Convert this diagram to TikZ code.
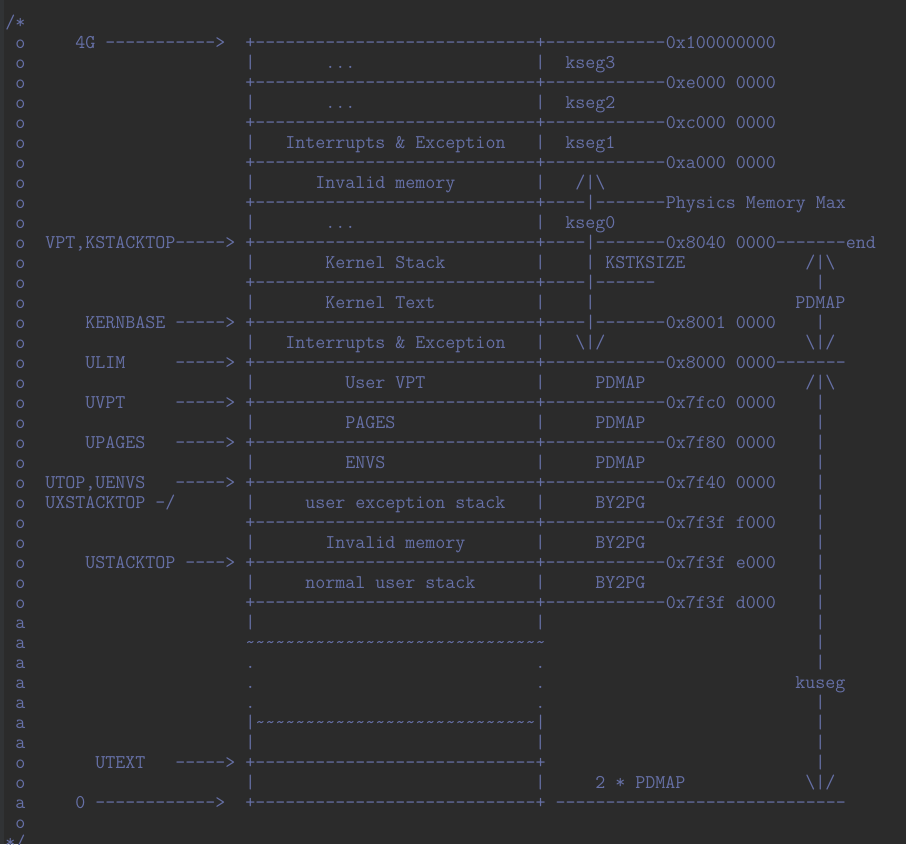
\documentclass[tikz,border=0pt]{standalone}
\usepackage{fontspec}
\setmonofont{Latin Modern Mono}

\definecolor{editorbg}{HTML}{2B2B2B}
\definecolor{guttercol}{HTML}{313335}
\definecolor{commentcol}{HTML}{6670A6}

\newcommand{\segrow}{+----------------------------+}
\newcommand{\tld}{\textasciitilde}
\newcommand{\tldfive}{\tld\tld\tld\tld\tld}

\begin{document}
\begin{tikzpicture}[
    x=7.5pt, y=-15pt,
    txt/.style={anchor=base west, inner sep=0pt, text=commentcol,
      font=\ttfamily\fontsize{14.58pt}{15pt}\selectfont},
  ]
  % editor background and gutter
  \path[use as bounding box, fill=editorbg] (0,0) rectangle (90.6,42.2);
  \fill[guttercol] (0,0) rectangle (0.4,42.2);

  \begin{scope}[shift={(0.5,1.4)}]
  % comment markers
  \node[txt] (open) at (0,0) {/*};
  \node[txt] (close) at (0,41) {*/};
  \foreach \r in {1,...,29,37,38,40}
    \node[txt] (o\r) at (1,\r) {o};
  \foreach \r in {30,...,36,39}
    \node[txt] (a\r) at (1,\r) {a};

  % address arrows
  \node[txt] (fourg) at (7,1) {4G ----------->};
  \node[txt] (vpt) at (4,11) {VPT,KSTACKTOP----->};
  \node[txt] (kernbase) at (8,15) {KERNBASE ----->};
  \node[txt] (ulim) at (8,17) {ULIM};
  \node[txt] (uvpt) at (8,19) {UVPT};
  \node[txt] (upages) at (8,21) {UPAGES};
  \node[txt] (utop) at (4,23) {UTOP,UENVS};
  \node[txt] (uxstack) at (4,24) {UXSTACKTOP -/};
  \node[txt] (ustack) at (8,27) {USTACKTOP ---->};
  \node[txt] (utext) at (9,37) {UTEXT};
  \node[txt] (zero) at (7,39) {0 ------------>};
  \foreach \r in {17,19,21,23,37}
    \node[txt] (arr\r) at (17,\r) {----->};

  % segment borders
  \node[txt] (b1) at (24,1) {\segrow------------0x100000000};
  \node[txt] (b3) at (24,3) {\segrow------------0xe000 0000};
  \node[txt] (b5) at (24,5) {\segrow------------0xc000 0000};
  \node[txt] (b7) at (24,7) {\segrow------------0xa000 0000};
  \node[txt] (b9) at (24,9) {\segrow----|-------Physics Memory Max};
  \node[txt] (b11) at (24,11) {\segrow----|-------0x8040 0000-------end};
  \node[txt] (b13) at (24,13) {\segrow----|------};
  \node[txt] (b15) at (24,15) {\segrow----|-------0x8001 0000};
  \node[txt] (b17) at (24,17) {\segrow------------0x8000 0000-------};
  \node[txt] (b19) at (24,19) {\segrow------------0x7fc0 0000};
  \node[txt] (b21) at (24,21) {\segrow------------0x7f80 0000};
  \node[txt] (b23) at (24,23) {\segrow------------0x7f40 0000};
  \node[txt] (b25) at (24,25) {\segrow------------0x7f3f f000};
  \node[txt] (b27) at (24,27) {\segrow------------0x7f3f e000};
  \node[txt] (b29) at (24,29) {\segrow------------0x7f3f d000};
  \node[txt] (b37) at (24,37) {\segrow};
  \node[txt] (b39) at (24,39) {\segrow{} -----------------------------};

  % side bars
  \foreach \r in {2,4,...,30,36,38} {
    \node[txt] (lb\r) at (24,\r) {|};
    \node[txt] (rb\r) at (53,\r) {|};
  }
  \foreach \r in {32,33,34} {
    \node[txt] (ld\r) at (24,\r) {.};
    \node[txt] (rd\r) at (53,\r) {.};
  }
  \node[txt] (cut1) at (24,31) {\tldfive\tldfive\tldfive\tldfive\tldfive\tldfive};
  \node[txt] (cut2) at (24,35) {|\tldfive\tldfive\tldfive\tldfive\tldfive\tld\tld\tld|};

  % segment contents
  \node[txt] (s2) at (32,2) {...};
  \node[txt] (s4) at (32,4) {...};
  \node[txt] (s6) at (28,6) {Interrupts \& Exception};
  \node[txt] (s8) at (31,8) {Invalid memory};
  \node[txt] (s10) at (32,10) {...};
  \node[txt] (s12) at (32,12) {Kernel Stack};
  \node[txt] (s14) at (32,14) {Kernel Text};
  \node[txt] (s16) at (28,16) {Interrupts \& Exception};
  \node[txt] (s18) at (34,18) {User VPT};
  \node[txt] (s20) at (34,20) {PAGES};
  \node[txt] (s22) at (34,22) {ENVS};
  \node[txt] (s24) at (30,24) {user exception stack};
  \node[txt] (s26) at (32,26) {Invalid memory};
  \node[txt] (s28) at (30,28) {normal user stack};

  % segment names and sizes
  \node[txt] (kseg3) at (56,2) {kseg3};
  \node[txt] (kseg2) at (56,4) {kseg2};
  \node[txt] (kseg1) at (56,6) {kseg1};
  \node[txt] (up8) at (57,8) {/|\textbackslash};
  \node[txt] (kseg0) at (56,10) {kseg0};
  \node[txt] (kstk) at (58,12) {| KSTKSIZE};
  \node[txt] (kbar14) at (58,14) {|};
  \node[txt] (down16) at (57,16) {\textbackslash|/};
  \node[txt] (pd18) at (59,18) {PDMAP};
  \node[txt] (pd20) at (59,20) {PDMAP};
  \node[txt] (pd22) at (59,22) {PDMAP};
  \node[txt] (pg24) at (59,24) {BY2PG};
  \node[txt] (pg26) at (59,26) {BY2PG};
  \node[txt] (pg28) at (59,28) {BY2PG};
  \node[txt] (pd38) at (59,38) {2 * PDMAP};

  % right hand ranges
  \node[txt] (up12) at (80,12) {/|\textbackslash};
  \node[txt] (pdmap) at (79,14) {PDMAP};
  \node[txt] (down16r) at (80,16) {\textbackslash|/};
  \node[txt] (up18) at (80,18) {/|\textbackslash};
  \node[txt] (kuseg) at (79,33) {kuseg};
  \node[txt] (down38) at (80,38) {\textbackslash|/};
  \foreach \r in {13,15,19,20,...,32,34,35,36,37}
    \node[txt] (kc\r) at (81,\r) {|};
  \end{scope}
\end{tikzpicture}
\end{document}
